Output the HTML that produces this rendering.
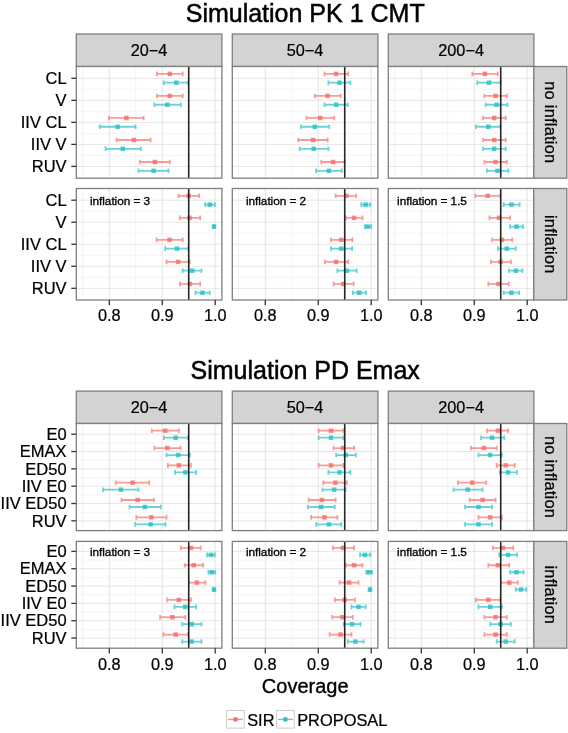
<!DOCTYPE html>
<html><head><meta charset="utf-8"><style>
html,body{margin:0;padding:0;background:#fff;}
svg{display:block;will-change:transform;}
text{font-family:"Liberation Sans", sans-serif;fill:#000;stroke:#000;stroke-width:0.22px;}
.t{font-size:25px;text-anchor:middle;stroke-width:0.5px;}
.s{font-size:16.3px;text-anchor:middle;}
.r{font-size:16.4px;text-anchor:middle;letter-spacing:0.25px;}
.y{font-size:16.5px;text-anchor:end;}
.i{font-size:11.8px;text-anchor:middle;letter-spacing:-0.05px;stroke:#000;stroke-width:0.32px;}
.xt{font-size:20px;text-anchor:middle;stroke-width:0.35px;}
.l{font-size:16.4px;}
</style></head><body>
<svg width="568" height="733" viewBox="0 0 568 733">
<rect width="568" height="733" fill="#fff"/>
<text x="305.2" y="22.3" class="t">Simulation PK 1 CMT</text>
<rect x="76.3" y="34" width="145.6" height="32.5" fill="#d3d3d3" stroke="#7f7f7f" stroke-width="1.3"/>
<text x="149.1" y="56.05" class="s">20−4</text>
<rect x="232.3" y="34" width="145.6" height="32.5" fill="#d3d3d3" stroke="#7f7f7f" stroke-width="1.3"/>
<text x="305.1" y="56.05" class="s">50−4</text>
<rect x="388.3" y="34" width="145.6" height="32.5" fill="#d3d3d3" stroke="#7f7f7f" stroke-width="1.3"/>
<text x="461.1" y="56.05" class="s">200−4</text>
<rect x="76.3" y="66.5" width="145.6" height="111.7" fill="#fff"/>
<line x1="82.82" x2="82.82" y1="66.5" y2="178.2" stroke="#f4f4f4" stroke-width="1"/>
<line x1="135.77" x2="135.77" y1="66.5" y2="178.2" stroke="#f4f4f4" stroke-width="1"/>
<line x1="188.72" x2="188.72" y1="66.5" y2="178.2" stroke="#f4f4f4" stroke-width="1"/>
<line x1="76.3" x2="221.9" y1="89.31" y2="89.31" stroke="#f4f4f4" stroke-width="1"/>
<line x1="76.3" x2="221.9" y1="111.34" y2="111.34" stroke="#f4f4f4" stroke-width="1"/>
<line x1="76.3" x2="221.9" y1="133.38" y2="133.38" stroke="#f4f4f4" stroke-width="1"/>
<line x1="76.3" x2="221.9" y1="155.41" y2="155.41" stroke="#f4f4f4" stroke-width="1"/>
<line x1="109.3" x2="109.3" y1="66.5" y2="178.2" stroke="#e2e2e2" stroke-width="0.9"/>
<line x1="162.25" x2="162.25" y1="66.5" y2="178.2" stroke="#e2e2e2" stroke-width="0.9"/>
<line x1="215.2" x2="215.2" y1="66.5" y2="178.2" stroke="#e2e2e2" stroke-width="0.9"/>
<line x1="76.3" x2="221.9" y1="78.3" y2="78.3" stroke="#e2e2e2" stroke-width="0.9"/>
<line x1="76.3" x2="221.9" y1="100.33" y2="100.33" stroke="#e2e2e2" stroke-width="0.9"/>
<line x1="76.3" x2="221.9" y1="122.36" y2="122.36" stroke="#e2e2e2" stroke-width="0.9"/>
<line x1="76.3" x2="221.9" y1="144.39" y2="144.39" stroke="#e2e2e2" stroke-width="0.9"/>
<line x1="76.3" x2="221.9" y1="166.42" y2="166.42" stroke="#e2e2e2" stroke-width="0.9"/>
<path d="M157 73.9H182.7M157 71.6V76.2M182.7 71.6V76.2" stroke="#F7706A" stroke-opacity="0.7" stroke-width="1.8" fill="none"/>
<rect x="167.55" y="71.65" width="4.5" height="4.5" fill="#F7706A" fill-opacity="0.82"/>
<path d="M163.9 82.7H187.8M163.9 80.4V85M187.8 80.4V85" stroke="#2CC0C4" stroke-opacity="0.7" stroke-width="1.8" fill="none"/>
<rect x="174.05" y="80.45" width="4.5" height="4.5" fill="#2CC0C4" fill-opacity="0.82"/>
<path d="M157 95.93H182.7M157 93.63V98.23M182.7 93.63V98.23" stroke="#F7706A" stroke-opacity="0.7" stroke-width="1.8" fill="none"/>
<rect x="167.55" y="93.68" width="4.5" height="4.5" fill="#F7706A" fill-opacity="0.82"/>
<path d="M154.4 104.73H180.9M154.4 102.43V107.03M180.9 102.43V107.03" stroke="#2CC0C4" stroke-opacity="0.7" stroke-width="1.8" fill="none"/>
<rect x="165.05" y="102.48" width="4.5" height="4.5" fill="#2CC0C4" fill-opacity="0.82"/>
<path d="M108.9 117.96H143.6M108.9 115.66V120.26M143.6 115.66V120.26" stroke="#F7706A" stroke-opacity="0.7" stroke-width="1.8" fill="none"/>
<rect x="124.15" y="115.71" width="4.5" height="4.5" fill="#F7706A" fill-opacity="0.82"/>
<path d="M99.7 126.76H135.6M99.7 124.46V129.06M135.6 124.46V129.06" stroke="#2CC0C4" stroke-opacity="0.7" stroke-width="1.8" fill="none"/>
<rect x="115.35" y="124.51" width="4.5" height="4.5" fill="#2CC0C4" fill-opacity="0.82"/>
<path d="M116.6 139.99H150.6M116.6 137.69V142.29M150.6 137.69V142.29" stroke="#F7706A" stroke-opacity="0.7" stroke-width="1.8" fill="none"/>
<rect x="131.55" y="137.74" width="4.5" height="4.5" fill="#F7706A" fill-opacity="0.82"/>
<path d="M105.6 148.79H140.8M105.6 146.49V151.09M140.8 146.49V151.09" stroke="#2CC0C4" stroke-opacity="0.7" stroke-width="1.8" fill="none"/>
<rect x="120.55" y="146.54" width="4.5" height="4.5" fill="#2CC0C4" fill-opacity="0.82"/>
<path d="M139.8 162.02H169.8M139.8 159.72V164.32M169.8 159.72V164.32" stroke="#F7706A" stroke-opacity="0.7" stroke-width="1.8" fill="none"/>
<rect x="152.65" y="159.77" width="4.5" height="4.5" fill="#F7706A" fill-opacity="0.82"/>
<path d="M138.5 170.82H168.5M138.5 168.52V173.12M168.5 168.52V173.12" stroke="#2CC0C4" stroke-opacity="0.7" stroke-width="1.8" fill="none"/>
<rect x="151.35" y="168.57" width="4.5" height="4.5" fill="#2CC0C4" fill-opacity="0.82"/>
<line x1="188.72" x2="188.72" y1="66.5" y2="178.2" stroke="#1a1a1a" stroke-width="1.6" stroke-opacity="0.95"/>
<rect x="76.3" y="66.5" width="145.6" height="111.7" fill="none" stroke="#7f7f7f" stroke-width="1.3"/>
<rect x="232.3" y="66.5" width="145.6" height="111.7" fill="#fff"/>
<line x1="238.82" x2="238.82" y1="66.5" y2="178.2" stroke="#f4f4f4" stroke-width="1"/>
<line x1="291.77" x2="291.77" y1="66.5" y2="178.2" stroke="#f4f4f4" stroke-width="1"/>
<line x1="344.72" x2="344.72" y1="66.5" y2="178.2" stroke="#f4f4f4" stroke-width="1"/>
<line x1="232.3" x2="377.9" y1="89.31" y2="89.31" stroke="#f4f4f4" stroke-width="1"/>
<line x1="232.3" x2="377.9" y1="111.34" y2="111.34" stroke="#f4f4f4" stroke-width="1"/>
<line x1="232.3" x2="377.9" y1="133.38" y2="133.38" stroke="#f4f4f4" stroke-width="1"/>
<line x1="232.3" x2="377.9" y1="155.41" y2="155.41" stroke="#f4f4f4" stroke-width="1"/>
<line x1="265.3" x2="265.3" y1="66.5" y2="178.2" stroke="#e2e2e2" stroke-width="0.9"/>
<line x1="318.25" x2="318.25" y1="66.5" y2="178.2" stroke="#e2e2e2" stroke-width="0.9"/>
<line x1="371.2" x2="371.2" y1="66.5" y2="178.2" stroke="#e2e2e2" stroke-width="0.9"/>
<line x1="232.3" x2="377.9" y1="78.3" y2="78.3" stroke="#e2e2e2" stroke-width="0.9"/>
<line x1="232.3" x2="377.9" y1="100.33" y2="100.33" stroke="#e2e2e2" stroke-width="0.9"/>
<line x1="232.3" x2="377.9" y1="122.36" y2="122.36" stroke="#e2e2e2" stroke-width="0.9"/>
<line x1="232.3" x2="377.9" y1="144.39" y2="144.39" stroke="#e2e2e2" stroke-width="0.9"/>
<line x1="232.3" x2="377.9" y1="166.42" y2="166.42" stroke="#e2e2e2" stroke-width="0.9"/>
<path d="M324.5 73.9H348.2M324.5 71.6V76.2M348.2 71.6V76.2" stroke="#F7706A" stroke-opacity="0.7" stroke-width="1.8" fill="none"/>
<rect x="333.85" y="71.65" width="4.5" height="4.5" fill="#F7706A" fill-opacity="0.82"/>
<path d="M328.4 82.7H350.3M328.4 80.4V85M350.3 80.4V85" stroke="#2CC0C4" stroke-opacity="0.7" stroke-width="1.8" fill="none"/>
<rect x="337.25" y="80.45" width="4.5" height="4.5" fill="#2CC0C4" fill-opacity="0.82"/>
<path d="M314.8 95.93H340.7M314.8 93.63V98.23M340.7 93.63V98.23" stroke="#F7706A" stroke-opacity="0.7" stroke-width="1.8" fill="none"/>
<rect x="325.35" y="93.68" width="4.5" height="4.5" fill="#F7706A" fill-opacity="0.82"/>
<path d="M324.5 104.73H347.7M324.5 102.43V107.03M347.7 102.43V107.03" stroke="#2CC0C4" stroke-opacity="0.7" stroke-width="1.8" fill="none"/>
<rect x="333.85" y="102.48" width="4.5" height="4.5" fill="#2CC0C4" fill-opacity="0.82"/>
<path d="M306.6 117.96H334.3M306.6 115.66V120.26M334.3 115.66V120.26" stroke="#F7706A" stroke-opacity="0.7" stroke-width="1.8" fill="none"/>
<rect x="317.95" y="115.71" width="4.5" height="4.5" fill="#F7706A" fill-opacity="0.82"/>
<path d="M300.9 126.76H329.2M300.9 124.46V129.06M329.2 124.46V129.06" stroke="#2CC0C4" stroke-opacity="0.7" stroke-width="1.8" fill="none"/>
<rect x="312.55" y="124.51" width="4.5" height="4.5" fill="#2CC0C4" fill-opacity="0.82"/>
<path d="M298.3 139.99H327.6M298.3 137.69V142.29M327.6 137.69V142.29" stroke="#F7706A" stroke-opacity="0.7" stroke-width="1.8" fill="none"/>
<rect x="310.75" y="137.74" width="4.5" height="4.5" fill="#F7706A" fill-opacity="0.82"/>
<path d="M299.6 148.79H328.4M299.6 146.49V151.09M328.4 146.49V151.09" stroke="#2CC0C4" stroke-opacity="0.7" stroke-width="1.8" fill="none"/>
<rect x="311.45" y="146.54" width="4.5" height="4.5" fill="#2CC0C4" fill-opacity="0.82"/>
<path d="M321.2 162.02H344.6M321.2 159.72V164.32M344.6 159.72V164.32" stroke="#F7706A" stroke-opacity="0.7" stroke-width="1.8" fill="none"/>
<rect x="330.75" y="159.77" width="4.5" height="4.5" fill="#F7706A" fill-opacity="0.82"/>
<path d="M316.1 170.82H341.8M316.1 168.52V173.12M341.8 168.52V173.12" stroke="#2CC0C4" stroke-opacity="0.7" stroke-width="1.8" fill="none"/>
<rect x="326.65" y="168.57" width="4.5" height="4.5" fill="#2CC0C4" fill-opacity="0.82"/>
<line x1="344.72" x2="344.72" y1="66.5" y2="178.2" stroke="#1a1a1a" stroke-width="1.6" stroke-opacity="0.95"/>
<rect x="232.3" y="66.5" width="145.6" height="111.7" fill="none" stroke="#7f7f7f" stroke-width="1.3"/>
<rect x="388.3" y="66.5" width="145.6" height="111.7" fill="#fff"/>
<line x1="394.82" x2="394.82" y1="66.5" y2="178.2" stroke="#f4f4f4" stroke-width="1"/>
<line x1="447.77" x2="447.77" y1="66.5" y2="178.2" stroke="#f4f4f4" stroke-width="1"/>
<line x1="500.72" x2="500.72" y1="66.5" y2="178.2" stroke="#f4f4f4" stroke-width="1"/>
<line x1="388.3" x2="533.9" y1="89.31" y2="89.31" stroke="#f4f4f4" stroke-width="1"/>
<line x1="388.3" x2="533.9" y1="111.34" y2="111.34" stroke="#f4f4f4" stroke-width="1"/>
<line x1="388.3" x2="533.9" y1="133.38" y2="133.38" stroke="#f4f4f4" stroke-width="1"/>
<line x1="388.3" x2="533.9" y1="155.41" y2="155.41" stroke="#f4f4f4" stroke-width="1"/>
<line x1="421.3" x2="421.3" y1="66.5" y2="178.2" stroke="#e2e2e2" stroke-width="0.9"/>
<line x1="474.25" x2="474.25" y1="66.5" y2="178.2" stroke="#e2e2e2" stroke-width="0.9"/>
<line x1="527.2" x2="527.2" y1="66.5" y2="178.2" stroke="#e2e2e2" stroke-width="0.9"/>
<line x1="388.3" x2="533.9" y1="78.3" y2="78.3" stroke="#e2e2e2" stroke-width="0.9"/>
<line x1="388.3" x2="533.9" y1="100.33" y2="100.33" stroke="#e2e2e2" stroke-width="0.9"/>
<line x1="388.3" x2="533.9" y1="122.36" y2="122.36" stroke="#e2e2e2" stroke-width="0.9"/>
<line x1="388.3" x2="533.9" y1="144.39" y2="144.39" stroke="#e2e2e2" stroke-width="0.9"/>
<line x1="388.3" x2="533.9" y1="166.42" y2="166.42" stroke="#e2e2e2" stroke-width="0.9"/>
<path d="M472.3 73.9H497.8M472.3 71.6V76.2M497.8 71.6V76.2" stroke="#F7706A" stroke-opacity="0.7" stroke-width="1.8" fill="none"/>
<rect x="482.65" y="71.65" width="4.5" height="4.5" fill="#F7706A" fill-opacity="0.82"/>
<path d="M477.2 82.7H500.6M477.2 80.4V85M500.6 80.4V85" stroke="#2CC0C4" stroke-opacity="0.7" stroke-width="1.8" fill="none"/>
<rect x="486.75" y="80.45" width="4.5" height="4.5" fill="#2CC0C4" fill-opacity="0.82"/>
<path d="M484.4 95.93H506.8M484.4 93.63V98.23M506.8 93.63V98.23" stroke="#F7706A" stroke-opacity="0.7" stroke-width="1.8" fill="none"/>
<rect x="493.25" y="93.68" width="4.5" height="4.5" fill="#F7706A" fill-opacity="0.82"/>
<path d="M485.7 104.73H507.5M485.7 102.43V107.03M507.5 102.43V107.03" stroke="#2CC0C4" stroke-opacity="0.7" stroke-width="1.8" fill="none"/>
<rect x="494.25" y="102.48" width="4.5" height="4.5" fill="#2CC0C4" fill-opacity="0.82"/>
<path d="M483.1 117.96H505.7M483.1 115.66V120.26M505.7 115.66V120.26" stroke="#F7706A" stroke-opacity="0.7" stroke-width="1.8" fill="none"/>
<rect x="491.95" y="115.71" width="4.5" height="4.5" fill="#F7706A" fill-opacity="0.82"/>
<path d="M475.9 126.76H500.3M475.9 124.46V129.06M500.3 124.46V129.06" stroke="#2CC0C4" stroke-opacity="0.7" stroke-width="1.8" fill="none"/>
<rect x="486.05" y="124.51" width="4.5" height="4.5" fill="#2CC0C4" fill-opacity="0.82"/>
<path d="M483.1 139.99H505.7M483.1 137.69V142.29M505.7 137.69V142.29" stroke="#F7706A" stroke-opacity="0.7" stroke-width="1.8" fill="none"/>
<rect x="491.95" y="137.74" width="4.5" height="4.5" fill="#F7706A" fill-opacity="0.82"/>
<path d="M483.1 148.79H505.7M483.1 146.49V151.09M505.7 146.49V151.09" stroke="#2CC0C4" stroke-opacity="0.7" stroke-width="1.8" fill="none"/>
<rect x="491.95" y="146.54" width="4.5" height="4.5" fill="#2CC0C4" fill-opacity="0.82"/>
<path d="M484.4 162.02H506.8M484.4 159.72V164.32M506.8 159.72V164.32" stroke="#F7706A" stroke-opacity="0.7" stroke-width="1.8" fill="none"/>
<rect x="493.25" y="159.77" width="4.5" height="4.5" fill="#F7706A" fill-opacity="0.82"/>
<path d="M487 170.82H508.3M487 168.52V173.12M508.3 168.52V173.12" stroke="#2CC0C4" stroke-opacity="0.7" stroke-width="1.8" fill="none"/>
<rect x="495.25" y="168.57" width="4.5" height="4.5" fill="#2CC0C4" fill-opacity="0.82"/>
<line x1="500.72" x2="500.72" y1="66.5" y2="178.2" stroke="#1a1a1a" stroke-width="1.6" stroke-opacity="0.95"/>
<rect x="388.3" y="66.5" width="145.6" height="111.7" fill="none" stroke="#7f7f7f" stroke-width="1.3"/>
<rect x="533.8" y="66.5" width="33" height="111.7" fill="#d3d3d3" stroke="#7f7f7f" stroke-width="1.3"/>
<text transform="translate(544.6 122.35) rotate(90)" class="r">no inflation</text>
<line x1="71.3" x2="76" y1="78.3" y2="78.3" stroke="#333" stroke-width="1.3"/>
<text x="66.6" y="84.05" class="y">CL</text>
<line x1="71.3" x2="76" y1="100.33" y2="100.33" stroke="#333" stroke-width="1.3"/>
<text x="66.6" y="106.08" class="y">V</text>
<line x1="71.3" x2="76" y1="122.36" y2="122.36" stroke="#333" stroke-width="1.3"/>
<text x="66.6" y="128.11" class="y">IIV CL</text>
<line x1="71.3" x2="76" y1="144.39" y2="144.39" stroke="#333" stroke-width="1.3"/>
<text x="66.6" y="150.14" class="y">IIV V</text>
<line x1="71.3" x2="76" y1="166.42" y2="166.42" stroke="#333" stroke-width="1.3"/>
<text x="66.6" y="172.17" class="y">RUV</text>
<rect x="76.3" y="188.5" width="145.6" height="111.5" fill="#fff"/>
<line x1="82.82" x2="82.82" y1="188.5" y2="300" stroke="#f4f4f4" stroke-width="1"/>
<line x1="135.77" x2="135.77" y1="188.5" y2="300" stroke="#f4f4f4" stroke-width="1"/>
<line x1="188.72" x2="188.72" y1="188.5" y2="300" stroke="#f4f4f4" stroke-width="1"/>
<line x1="76.3" x2="221.9" y1="211.21" y2="211.21" stroke="#f4f4f4" stroke-width="1"/>
<line x1="76.3" x2="221.9" y1="233.25" y2="233.25" stroke="#f4f4f4" stroke-width="1"/>
<line x1="76.3" x2="221.9" y1="255.27" y2="255.27" stroke="#f4f4f4" stroke-width="1"/>
<line x1="76.3" x2="221.9" y1="277.3" y2="277.3" stroke="#f4f4f4" stroke-width="1"/>
<line x1="109.3" x2="109.3" y1="188.5" y2="300" stroke="#e2e2e2" stroke-width="0.9"/>
<line x1="162.25" x2="162.25" y1="188.5" y2="300" stroke="#e2e2e2" stroke-width="0.9"/>
<line x1="215.2" x2="215.2" y1="188.5" y2="300" stroke="#e2e2e2" stroke-width="0.9"/>
<line x1="76.3" x2="221.9" y1="200.2" y2="200.2" stroke="#e2e2e2" stroke-width="0.9"/>
<line x1="76.3" x2="221.9" y1="222.23" y2="222.23" stroke="#e2e2e2" stroke-width="0.9"/>
<line x1="76.3" x2="221.9" y1="244.26" y2="244.26" stroke="#e2e2e2" stroke-width="0.9"/>
<line x1="76.3" x2="221.9" y1="266.29" y2="266.29" stroke="#e2e2e2" stroke-width="0.9"/>
<line x1="76.3" x2="221.9" y1="288.32" y2="288.32" stroke="#e2e2e2" stroke-width="0.9"/>
<path d="M178.5 195.8H199.2M178.5 193.5V198.1M199.2 193.5V198.1" stroke="#F7706A" stroke-opacity="0.7" stroke-width="1.8" fill="none"/>
<rect x="186.45" y="193.55" width="4.5" height="4.5" fill="#F7706A" fill-opacity="0.82"/>
<path d="M205.1 204.6H214.9M205.1 202.3V206.9M214.9 202.3V206.9" stroke="#2CC0C4" stroke-opacity="0.7" stroke-width="1.8" fill="none"/>
<rect x="207.55" y="202.35" width="4.5" height="4.5" fill="#2CC0C4" fill-opacity="0.82"/>
<path d="M179.8 217.83H200.1M179.8 215.53V220.13M200.1 215.53V220.13" stroke="#F7706A" stroke-opacity="0.7" stroke-width="1.8" fill="none"/>
<rect x="187.25" y="215.58" width="4.5" height="4.5" fill="#F7706A" fill-opacity="0.82"/>
<path d="M213.5 226.63H214.5M213.5 224.33V228.93M214.5 224.33V228.93" stroke="#2CC0C4" stroke-opacity="0.7" stroke-width="1.8" fill="none"/>
<rect x="211.75" y="224.38" width="4.5" height="4.5" fill="#2CC0C4" fill-opacity="0.82"/>
<path d="M156.6 239.86H182.7M156.6 237.56V242.16M182.7 237.56V242.16" stroke="#F7706A" stroke-opacity="0.7" stroke-width="1.8" fill="none"/>
<rect x="167.35" y="237.61" width="4.5" height="4.5" fill="#F7706A" fill-opacity="0.82"/>
<path d="M165.2 248.66H188.1M165.2 246.36V250.96M188.1 246.36V250.96" stroke="#2CC0C4" stroke-opacity="0.7" stroke-width="1.8" fill="none"/>
<rect x="174.75" y="246.41" width="4.5" height="4.5" fill="#2CC0C4" fill-opacity="0.82"/>
<path d="M166.5 261.89H189.6M166.5 259.59V264.19M189.6 259.59V264.19" stroke="#F7706A" stroke-opacity="0.7" stroke-width="1.8" fill="none"/>
<rect x="175.85" y="259.64" width="4.5" height="4.5" fill="#F7706A" fill-opacity="0.82"/>
<path d="M182.7 270.69H201.4M182.7 268.39V272.99M201.4 268.39V272.99" stroke="#2CC0C4" stroke-opacity="0.7" stroke-width="1.8" fill="none"/>
<rect x="189.95" y="268.44" width="4.5" height="4.5" fill="#2CC0C4" fill-opacity="0.82"/>
<path d="M180.1 283.92H200.2M180.1 281.62V286.22M200.2 281.62V286.22" stroke="#F7706A" stroke-opacity="0.7" stroke-width="1.8" fill="none"/>
<rect x="187.65" y="281.67" width="4.5" height="4.5" fill="#F7706A" fill-opacity="0.82"/>
<path d="M195.5 292.72H209.7M195.5 290.42V295.02M209.7 290.42V295.02" stroke="#2CC0C4" stroke-opacity="0.7" stroke-width="1.8" fill="none"/>
<rect x="200.25" y="290.47" width="4.5" height="4.5" fill="#2CC0C4" fill-opacity="0.82"/>
<line x1="188.72" x2="188.72" y1="188.5" y2="300" stroke="#1a1a1a" stroke-width="1.6" stroke-opacity="0.95"/>
<text x="120" y="204.8" class="i">inflation = 3</text>
<rect x="76.3" y="188.5" width="145.6" height="111.5" fill="none" stroke="#7f7f7f" stroke-width="1.3"/>
<rect x="232.3" y="188.5" width="145.6" height="111.5" fill="#fff"/>
<line x1="238.82" x2="238.82" y1="188.5" y2="300" stroke="#f4f4f4" stroke-width="1"/>
<line x1="291.77" x2="291.77" y1="188.5" y2="300" stroke="#f4f4f4" stroke-width="1"/>
<line x1="344.72" x2="344.72" y1="188.5" y2="300" stroke="#f4f4f4" stroke-width="1"/>
<line x1="232.3" x2="377.9" y1="211.21" y2="211.21" stroke="#f4f4f4" stroke-width="1"/>
<line x1="232.3" x2="377.9" y1="233.25" y2="233.25" stroke="#f4f4f4" stroke-width="1"/>
<line x1="232.3" x2="377.9" y1="255.27" y2="255.27" stroke="#f4f4f4" stroke-width="1"/>
<line x1="232.3" x2="377.9" y1="277.3" y2="277.3" stroke="#f4f4f4" stroke-width="1"/>
<line x1="265.3" x2="265.3" y1="188.5" y2="300" stroke="#e2e2e2" stroke-width="0.9"/>
<line x1="318.25" x2="318.25" y1="188.5" y2="300" stroke="#e2e2e2" stroke-width="0.9"/>
<line x1="371.2" x2="371.2" y1="188.5" y2="300" stroke="#e2e2e2" stroke-width="0.9"/>
<line x1="232.3" x2="377.9" y1="200.2" y2="200.2" stroke="#e2e2e2" stroke-width="0.9"/>
<line x1="232.3" x2="377.9" y1="222.23" y2="222.23" stroke="#e2e2e2" stroke-width="0.9"/>
<line x1="232.3" x2="377.9" y1="244.26" y2="244.26" stroke="#e2e2e2" stroke-width="0.9"/>
<line x1="232.3" x2="377.9" y1="266.29" y2="266.29" stroke="#e2e2e2" stroke-width="0.9"/>
<line x1="232.3" x2="377.9" y1="288.32" y2="288.32" stroke="#e2e2e2" stroke-width="0.9"/>
<path d="M335.6 195.8H356.2M335.6 193.5V198.1M356.2 193.5V198.1" stroke="#F7706A" stroke-opacity="0.7" stroke-width="1.8" fill="none"/>
<rect x="344.15" y="193.55" width="4.5" height="4.5" fill="#F7706A" fill-opacity="0.82"/>
<path d="M361.3 204.6H370.3M361.3 202.3V206.9M370.3 202.3V206.9" stroke="#2CC0C4" stroke-opacity="0.7" stroke-width="1.8" fill="none"/>
<rect x="363.45" y="202.35" width="4.5" height="4.5" fill="#2CC0C4" fill-opacity="0.82"/>
<path d="M345.9 217.83H362.6M345.9 215.53V220.13M362.6 215.53V220.13" stroke="#F7706A" stroke-opacity="0.7" stroke-width="1.8" fill="none"/>
<rect x="351.85" y="215.58" width="4.5" height="4.5" fill="#F7706A" fill-opacity="0.82"/>
<path d="M364.9 226.63H371.3M364.9 224.33V228.93M371.3 224.33V228.93" stroke="#2CC0C4" stroke-opacity="0.7" stroke-width="1.8" fill="none"/>
<rect x="365.45" y="224.38" width="4.5" height="4.5" fill="#2CC0C4" fill-opacity="0.82"/>
<path d="M331 239.86H352.3M331 237.56V242.16M352.3 237.56V242.16" stroke="#F7706A" stroke-opacity="0.7" stroke-width="1.8" fill="none"/>
<rect x="339.05" y="237.61" width="4.5" height="4.5" fill="#F7706A" fill-opacity="0.82"/>
<path d="M331 248.66H352.1M331 246.36V250.96M352.1 246.36V250.96" stroke="#2CC0C4" stroke-opacity="0.7" stroke-width="1.8" fill="none"/>
<rect x="339.05" y="246.41" width="4.5" height="4.5" fill="#2CC0C4" fill-opacity="0.82"/>
<path d="M325.1 261.89H348.2M325.1 259.59V264.19M348.2 259.59V264.19" stroke="#F7706A" stroke-opacity="0.7" stroke-width="1.8" fill="none"/>
<rect x="333.85" y="259.64" width="4.5" height="4.5" fill="#F7706A" fill-opacity="0.82"/>
<path d="M337.4 270.69H356.7M337.4 268.39V272.99M356.7 268.39V272.99" stroke="#2CC0C4" stroke-opacity="0.7" stroke-width="1.8" fill="none"/>
<rect x="344.65" y="268.44" width="4.5" height="4.5" fill="#2CC0C4" fill-opacity="0.82"/>
<path d="M333.5 283.92H353.6M333.5 281.62V286.22M353.6 281.62V286.22" stroke="#F7706A" stroke-opacity="0.7" stroke-width="1.8" fill="none"/>
<rect x="341.05" y="281.67" width="4.5" height="4.5" fill="#F7706A" fill-opacity="0.82"/>
<path d="M352.8 292.72H366.2M352.8 290.42V295.02M366.2 290.42V295.02" stroke="#2CC0C4" stroke-opacity="0.7" stroke-width="1.8" fill="none"/>
<rect x="356.95" y="290.47" width="4.5" height="4.5" fill="#2CC0C4" fill-opacity="0.82"/>
<line x1="344.72" x2="344.72" y1="188.5" y2="300" stroke="#1a1a1a" stroke-width="1.6" stroke-opacity="0.95"/>
<text x="276" y="204.8" class="i">inflation = 2</text>
<rect x="232.3" y="188.5" width="145.6" height="111.5" fill="none" stroke="#7f7f7f" stroke-width="1.3"/>
<rect x="388.3" y="188.5" width="145.6" height="111.5" fill="#fff"/>
<line x1="394.82" x2="394.82" y1="188.5" y2="300" stroke="#f4f4f4" stroke-width="1"/>
<line x1="447.77" x2="447.77" y1="188.5" y2="300" stroke="#f4f4f4" stroke-width="1"/>
<line x1="500.72" x2="500.72" y1="188.5" y2="300" stroke="#f4f4f4" stroke-width="1"/>
<line x1="388.3" x2="533.9" y1="211.21" y2="211.21" stroke="#f4f4f4" stroke-width="1"/>
<line x1="388.3" x2="533.9" y1="233.25" y2="233.25" stroke="#f4f4f4" stroke-width="1"/>
<line x1="388.3" x2="533.9" y1="255.27" y2="255.27" stroke="#f4f4f4" stroke-width="1"/>
<line x1="388.3" x2="533.9" y1="277.3" y2="277.3" stroke="#f4f4f4" stroke-width="1"/>
<line x1="421.3" x2="421.3" y1="188.5" y2="300" stroke="#e2e2e2" stroke-width="0.9"/>
<line x1="474.25" x2="474.25" y1="188.5" y2="300" stroke="#e2e2e2" stroke-width="0.9"/>
<line x1="527.2" x2="527.2" y1="188.5" y2="300" stroke="#e2e2e2" stroke-width="0.9"/>
<line x1="388.3" x2="533.9" y1="200.2" y2="200.2" stroke="#e2e2e2" stroke-width="0.9"/>
<line x1="388.3" x2="533.9" y1="222.23" y2="222.23" stroke="#e2e2e2" stroke-width="0.9"/>
<line x1="388.3" x2="533.9" y1="244.26" y2="244.26" stroke="#e2e2e2" stroke-width="0.9"/>
<line x1="388.3" x2="533.9" y1="266.29" y2="266.29" stroke="#e2e2e2" stroke-width="0.9"/>
<line x1="388.3" x2="533.9" y1="288.32" y2="288.32" stroke="#e2e2e2" stroke-width="0.9"/>
<path d="M475.4 195.8H500.3M475.4 193.5V198.1M500.3 193.5V198.1" stroke="#F7706A" stroke-opacity="0.7" stroke-width="1.8" fill="none"/>
<rect x="485.45" y="193.55" width="4.5" height="4.5" fill="#F7706A" fill-opacity="0.82"/>
<path d="M503.7 204.6H519.6M503.7 202.3V206.9M519.6 202.3V206.9" stroke="#2CC0C4" stroke-opacity="0.7" stroke-width="1.8" fill="none"/>
<rect x="509.15" y="202.35" width="4.5" height="4.5" fill="#2CC0C4" fill-opacity="0.82"/>
<path d="M489.5 217.83H510.1M489.5 215.53V220.13M510.1 215.53V220.13" stroke="#F7706A" stroke-opacity="0.7" stroke-width="1.8" fill="none"/>
<rect x="496.75" y="215.58" width="4.5" height="4.5" fill="#F7706A" fill-opacity="0.82"/>
<path d="M510.1 226.63H523M510.1 224.33V228.93M523 224.33V228.93" stroke="#2CC0C4" stroke-opacity="0.7" stroke-width="1.8" fill="none"/>
<rect x="514.25" y="224.38" width="4.5" height="4.5" fill="#2CC0C4" fill-opacity="0.82"/>
<path d="M492.1 239.86H512.2M492.1 237.56V242.16M512.2 237.56V242.16" stroke="#F7706A" stroke-opacity="0.7" stroke-width="1.8" fill="none"/>
<rect x="499.65" y="237.61" width="4.5" height="4.5" fill="#F7706A" fill-opacity="0.82"/>
<path d="M498 248.66H515.8M498 246.36V250.96M515.8 246.36V250.96" stroke="#2CC0C4" stroke-opacity="0.7" stroke-width="1.8" fill="none"/>
<rect x="504.55" y="246.41" width="4.5" height="4.5" fill="#2CC0C4" fill-opacity="0.82"/>
<path d="M490.8 261.89H510.9M490.8 259.59V264.19M510.9 259.59V264.19" stroke="#F7706A" stroke-opacity="0.7" stroke-width="1.8" fill="none"/>
<rect x="498.35" y="259.64" width="4.5" height="4.5" fill="#F7706A" fill-opacity="0.82"/>
<path d="M508.8 270.69H522.4M508.8 268.39V272.99M522.4 268.39V272.99" stroke="#2CC0C4" stroke-opacity="0.7" stroke-width="1.8" fill="none"/>
<rect x="513.55" y="268.44" width="4.5" height="4.5" fill="#2CC0C4" fill-opacity="0.82"/>
<path d="M488.3 283.92H508.8M488.3 281.62V286.22M508.8 281.62V286.22" stroke="#F7706A" stroke-opacity="0.7" stroke-width="1.8" fill="none"/>
<rect x="496.25" y="281.67" width="4.5" height="4.5" fill="#F7706A" fill-opacity="0.82"/>
<path d="M503.7 292.72H519.1M503.7 290.42V295.02M519.1 290.42V295.02" stroke="#2CC0C4" stroke-opacity="0.7" stroke-width="1.8" fill="none"/>
<rect x="509.15" y="290.47" width="4.5" height="4.5" fill="#2CC0C4" fill-opacity="0.82"/>
<line x1="500.72" x2="500.72" y1="188.5" y2="300" stroke="#1a1a1a" stroke-width="1.6" stroke-opacity="0.95"/>
<text x="432" y="204.8" class="i">inflation = 1.5</text>
<rect x="388.3" y="188.5" width="145.6" height="111.5" fill="none" stroke="#7f7f7f" stroke-width="1.3"/>
<rect x="533.8" y="188.5" width="33" height="111.5" fill="#d3d3d3" stroke="#7f7f7f" stroke-width="1.3"/>
<text transform="translate(544.6 244.25) rotate(90)" class="r">inflation</text>
<line x1="71.3" x2="76" y1="200.2" y2="200.2" stroke="#333" stroke-width="1.3"/>
<text x="66.6" y="205.95" class="y">CL</text>
<line x1="71.3" x2="76" y1="222.23" y2="222.23" stroke="#333" stroke-width="1.3"/>
<text x="66.6" y="227.98" class="y">V</text>
<line x1="71.3" x2="76" y1="244.26" y2="244.26" stroke="#333" stroke-width="1.3"/>
<text x="66.6" y="250.01" class="y">IIV CL</text>
<line x1="71.3" x2="76" y1="266.29" y2="266.29" stroke="#333" stroke-width="1.3"/>
<text x="66.6" y="272.04" class="y">IIV V</text>
<line x1="71.3" x2="76" y1="288.32" y2="288.32" stroke="#333" stroke-width="1.3"/>
<text x="66.6" y="294.07" class="y">RUV</text>
<line x1="109.3" x2="109.3" y1="300" y2="305.2" stroke="#333" stroke-width="1.3"/>
<text x="109.3" y="321.3" class="s">0.8</text>
<line x1="162.25" x2="162.25" y1="300" y2="305.2" stroke="#333" stroke-width="1.3"/>
<text x="162.25" y="321.3" class="s">0.9</text>
<line x1="215.2" x2="215.2" y1="300" y2="305.2" stroke="#333" stroke-width="1.3"/>
<text x="215.2" y="321.3" class="s">1.0</text>
<line x1="265.3" x2="265.3" y1="300" y2="305.2" stroke="#333" stroke-width="1.3"/>
<text x="265.3" y="321.3" class="s">0.8</text>
<line x1="318.25" x2="318.25" y1="300" y2="305.2" stroke="#333" stroke-width="1.3"/>
<text x="318.25" y="321.3" class="s">0.9</text>
<line x1="371.2" x2="371.2" y1="300" y2="305.2" stroke="#333" stroke-width="1.3"/>
<text x="371.2" y="321.3" class="s">1.0</text>
<line x1="421.3" x2="421.3" y1="300" y2="305.2" stroke="#333" stroke-width="1.3"/>
<text x="421.3" y="321.3" class="s">0.8</text>
<line x1="474.25" x2="474.25" y1="300" y2="305.2" stroke="#333" stroke-width="1.3"/>
<text x="474.25" y="321.3" class="s">0.9</text>
<line x1="527.2" x2="527.2" y1="300" y2="305.2" stroke="#333" stroke-width="1.3"/>
<text x="527.2" y="321.3" class="s">1.0</text>
<text x="305.2" y="378.6" class="t">Simulation PD Emax</text>
<rect x="76.3" y="391.1" width="145.6" height="32.4" fill="#d3d3d3" stroke="#7f7f7f" stroke-width="1.3"/>
<text x="149.1" y="413.1" class="s">20−4</text>
<rect x="232.3" y="391.1" width="145.6" height="32.4" fill="#d3d3d3" stroke="#7f7f7f" stroke-width="1.3"/>
<text x="305.1" y="413.1" class="s">50−4</text>
<rect x="388.3" y="391.1" width="145.6" height="32.4" fill="#d3d3d3" stroke="#7f7f7f" stroke-width="1.3"/>
<text x="461.1" y="413.1" class="s">200−4</text>
<rect x="76.3" y="423.5" width="145.6" height="107.1" fill="#fff"/>
<line x1="82.82" x2="82.82" y1="423.5" y2="530.6" stroke="#f4f4f4" stroke-width="1"/>
<line x1="135.77" x2="135.77" y1="423.5" y2="530.6" stroke="#f4f4f4" stroke-width="1"/>
<line x1="188.72" x2="188.72" y1="423.5" y2="530.6" stroke="#f4f4f4" stroke-width="1"/>
<line x1="76.3" x2="221.9" y1="442.87" y2="442.87" stroke="#f4f4f4" stroke-width="1"/>
<line x1="76.3" x2="221.9" y1="460.19" y2="460.19" stroke="#f4f4f4" stroke-width="1"/>
<line x1="76.3" x2="221.9" y1="477.52" y2="477.52" stroke="#f4f4f4" stroke-width="1"/>
<line x1="76.3" x2="221.9" y1="494.86" y2="494.86" stroke="#f4f4f4" stroke-width="1"/>
<line x1="76.3" x2="221.9" y1="512.18" y2="512.18" stroke="#f4f4f4" stroke-width="1"/>
<line x1="109.3" x2="109.3" y1="423.5" y2="530.6" stroke="#e2e2e2" stroke-width="0.9"/>
<line x1="162.25" x2="162.25" y1="423.5" y2="530.6" stroke="#e2e2e2" stroke-width="0.9"/>
<line x1="215.2" x2="215.2" y1="423.5" y2="530.6" stroke="#e2e2e2" stroke-width="0.9"/>
<line x1="76.3" x2="221.9" y1="434.2" y2="434.2" stroke="#e2e2e2" stroke-width="0.9"/>
<line x1="76.3" x2="221.9" y1="451.53" y2="451.53" stroke="#e2e2e2" stroke-width="0.9"/>
<line x1="76.3" x2="221.9" y1="468.86" y2="468.86" stroke="#e2e2e2" stroke-width="0.9"/>
<line x1="76.3" x2="221.9" y1="486.19" y2="486.19" stroke="#e2e2e2" stroke-width="0.9"/>
<line x1="76.3" x2="221.9" y1="503.52" y2="503.52" stroke="#e2e2e2" stroke-width="0.9"/>
<line x1="76.3" x2="221.9" y1="520.85" y2="520.85" stroke="#e2e2e2" stroke-width="0.9"/>
<path d="M151.8 430.7H178.8M151.8 428.4V433M178.8 428.4V433" stroke="#F7706A" stroke-opacity="0.7" stroke-width="1.8" fill="none"/>
<rect x="162.95" y="428.45" width="4.5" height="4.5" fill="#F7706A" fill-opacity="0.82"/>
<path d="M163.9 437.7H187.8M163.9 435.4V440M187.8 435.4V440" stroke="#2CC0C4" stroke-opacity="0.7" stroke-width="1.8" fill="none"/>
<rect x="173.45" y="435.45" width="4.5" height="4.5" fill="#2CC0C4" fill-opacity="0.82"/>
<path d="M154.4 448.03H180.6M154.4 445.73V450.33M180.6 445.73V450.33" stroke="#F7706A" stroke-opacity="0.7" stroke-width="1.8" fill="none"/>
<rect x="165.05" y="445.78" width="4.5" height="4.5" fill="#F7706A" fill-opacity="0.82"/>
<path d="M166.5 455.03H189.9M166.5 452.73V457.33M189.9 452.73V457.33" stroke="#2CC0C4" stroke-opacity="0.7" stroke-width="1.8" fill="none"/>
<rect x="175.85" y="452.78" width="4.5" height="4.5" fill="#2CC0C4" fill-opacity="0.82"/>
<path d="M167.8 465.36H190.9M167.8 463.06V467.66M190.9 463.06V467.66" stroke="#F7706A" stroke-opacity="0.7" stroke-width="1.8" fill="none"/>
<rect x="176.55" y="463.11" width="4.5" height="4.5" fill="#F7706A" fill-opacity="0.82"/>
<path d="M175 472.36H196.1M175 470.06V474.66M196.1 470.06V474.66" stroke="#2CC0C4" stroke-opacity="0.7" stroke-width="1.8" fill="none"/>
<rect x="183.05" y="470.11" width="4.5" height="4.5" fill="#2CC0C4" fill-opacity="0.82"/>
<path d="M115.8 482.69H149.3M115.8 480.39V484.99M149.3 480.39V484.99" stroke="#F7706A" stroke-opacity="0.7" stroke-width="1.8" fill="none"/>
<rect x="130.35" y="480.44" width="4.5" height="4.5" fill="#F7706A" fill-opacity="0.82"/>
<path d="M103 489.69H138.5M103 487.39V491.99M138.5 487.39V491.99" stroke="#2CC0C4" stroke-opacity="0.7" stroke-width="1.8" fill="none"/>
<rect x="118.75" y="487.44" width="4.5" height="4.5" fill="#2CC0C4" fill-opacity="0.82"/>
<path d="M121.5 500.02H153.9M121.5 497.72V502.32M153.9 497.72V502.32" stroke="#F7706A" stroke-opacity="0.7" stroke-width="1.8" fill="none"/>
<rect x="135.45" y="497.77" width="4.5" height="4.5" fill="#F7706A" fill-opacity="0.82"/>
<path d="M129.5 507.02H160.8M129.5 504.72V509.32M160.8 504.72V509.32" stroke="#2CC0C4" stroke-opacity="0.7" stroke-width="1.8" fill="none"/>
<rect x="142.65" y="504.77" width="4.5" height="4.5" fill="#2CC0C4" fill-opacity="0.82"/>
<path d="M136.4 517.35H166.5M136.4 515.05V519.65M166.5 515.05V519.65" stroke="#F7706A" stroke-opacity="0.7" stroke-width="1.8" fill="none"/>
<rect x="149.05" y="515.1" width="4.5" height="4.5" fill="#F7706A" fill-opacity="0.82"/>
<path d="M135.1 524.35H165.5M135.1 522.05V526.65M165.5 522.05V526.65" stroke="#2CC0C4" stroke-opacity="0.7" stroke-width="1.8" fill="none"/>
<rect x="148.35" y="522.1" width="4.5" height="4.5" fill="#2CC0C4" fill-opacity="0.82"/>
<line x1="188.72" x2="188.72" y1="423.5" y2="530.6" stroke="#1a1a1a" stroke-width="1.6" stroke-opacity="0.95"/>
<rect x="76.3" y="423.5" width="145.6" height="107.1" fill="none" stroke="#7f7f7f" stroke-width="1.3"/>
<rect x="232.3" y="423.5" width="145.6" height="107.1" fill="#fff"/>
<line x1="238.82" x2="238.82" y1="423.5" y2="530.6" stroke="#f4f4f4" stroke-width="1"/>
<line x1="291.77" x2="291.77" y1="423.5" y2="530.6" stroke="#f4f4f4" stroke-width="1"/>
<line x1="344.72" x2="344.72" y1="423.5" y2="530.6" stroke="#f4f4f4" stroke-width="1"/>
<line x1="232.3" x2="377.9" y1="442.87" y2="442.87" stroke="#f4f4f4" stroke-width="1"/>
<line x1="232.3" x2="377.9" y1="460.19" y2="460.19" stroke="#f4f4f4" stroke-width="1"/>
<line x1="232.3" x2="377.9" y1="477.52" y2="477.52" stroke="#f4f4f4" stroke-width="1"/>
<line x1="232.3" x2="377.9" y1="494.86" y2="494.86" stroke="#f4f4f4" stroke-width="1"/>
<line x1="232.3" x2="377.9" y1="512.18" y2="512.18" stroke="#f4f4f4" stroke-width="1"/>
<line x1="265.3" x2="265.3" y1="423.5" y2="530.6" stroke="#e2e2e2" stroke-width="0.9"/>
<line x1="318.25" x2="318.25" y1="423.5" y2="530.6" stroke="#e2e2e2" stroke-width="0.9"/>
<line x1="371.2" x2="371.2" y1="423.5" y2="530.6" stroke="#e2e2e2" stroke-width="0.9"/>
<line x1="232.3" x2="377.9" y1="434.2" y2="434.2" stroke="#e2e2e2" stroke-width="0.9"/>
<line x1="232.3" x2="377.9" y1="451.53" y2="451.53" stroke="#e2e2e2" stroke-width="0.9"/>
<line x1="232.3" x2="377.9" y1="468.86" y2="468.86" stroke="#e2e2e2" stroke-width="0.9"/>
<line x1="232.3" x2="377.9" y1="486.19" y2="486.19" stroke="#e2e2e2" stroke-width="0.9"/>
<line x1="232.3" x2="377.9" y1="503.52" y2="503.52" stroke="#e2e2e2" stroke-width="0.9"/>
<line x1="232.3" x2="377.9" y1="520.85" y2="520.85" stroke="#e2e2e2" stroke-width="0.9"/>
<path d="M318.6 430.7H343.3M318.6 428.4V433M343.3 428.4V433" stroke="#F7706A" stroke-opacity="0.7" stroke-width="1.8" fill="none"/>
<rect x="328.75" y="428.45" width="4.5" height="4.5" fill="#F7706A" fill-opacity="0.82"/>
<path d="M318.6 437.7H343.3M318.6 435.4V440M343.3 435.4V440" stroke="#2CC0C4" stroke-opacity="0.7" stroke-width="1.8" fill="none"/>
<rect x="328.75" y="435.45" width="4.5" height="4.5" fill="#2CC0C4" fill-opacity="0.82"/>
<path d="M333.5 448.03H354.1M333.5 445.73V450.33M354.1 445.73V450.33" stroke="#F7706A" stroke-opacity="0.7" stroke-width="1.8" fill="none"/>
<rect x="340.75" y="445.78" width="4.5" height="4.5" fill="#F7706A" fill-opacity="0.82"/>
<path d="M336.1 455.03H355.9M336.1 452.73V457.33M355.9 452.73V457.33" stroke="#2CC0C4" stroke-opacity="0.7" stroke-width="1.8" fill="none"/>
<rect x="343.65" y="452.78" width="4.5" height="4.5" fill="#2CC0C4" fill-opacity="0.82"/>
<path d="M318.6 465.36H343.3M318.6 463.06V467.66M343.3 463.06V467.66" stroke="#F7706A" stroke-opacity="0.7" stroke-width="1.8" fill="none"/>
<rect x="328.75" y="463.11" width="4.5" height="4.5" fill="#F7706A" fill-opacity="0.82"/>
<path d="M328.4 472.36H350.3M328.4 470.06V474.66M350.3 470.06V474.66" stroke="#2CC0C4" stroke-opacity="0.7" stroke-width="1.8" fill="none"/>
<rect x="337.25" y="470.11" width="4.5" height="4.5" fill="#2CC0C4" fill-opacity="0.82"/>
<path d="M323.3 482.69H346.9M323.3 480.39V484.99M346.9 480.39V484.99" stroke="#F7706A" stroke-opacity="0.7" stroke-width="1.8" fill="none"/>
<rect x="333.05" y="480.44" width="4.5" height="4.5" fill="#F7706A" fill-opacity="0.82"/>
<path d="M322.5 489.69H345.6M322.5 487.39V491.99M345.6 487.39V491.99" stroke="#2CC0C4" stroke-opacity="0.7" stroke-width="1.8" fill="none"/>
<rect x="331.85" y="487.44" width="4.5" height="4.5" fill="#2CC0C4" fill-opacity="0.82"/>
<path d="M308.6 500.02H335.6M308.6 497.72V502.32M335.6 497.72V502.32" stroke="#F7706A" stroke-opacity="0.7" stroke-width="1.8" fill="none"/>
<rect x="319.75" y="497.77" width="4.5" height="4.5" fill="#F7706A" fill-opacity="0.82"/>
<path d="M307.8 507.02H334.8M307.8 504.72V509.32M334.8 504.72V509.32" stroke="#2CC0C4" stroke-opacity="0.7" stroke-width="1.8" fill="none"/>
<rect x="318.95" y="504.77" width="4.5" height="4.5" fill="#2CC0C4" fill-opacity="0.82"/>
<path d="M311.2 517.35H337.4M311.2 515.05V519.65M337.4 515.05V519.65" stroke="#F7706A" stroke-opacity="0.7" stroke-width="1.8" fill="none"/>
<rect x="322.25" y="515.1" width="4.5" height="4.5" fill="#F7706A" fill-opacity="0.82"/>
<path d="M316.3 524.35H341.3M316.3 522.05V526.65M341.3 522.05V526.65" stroke="#2CC0C4" stroke-opacity="0.7" stroke-width="1.8" fill="none"/>
<rect x="326.65" y="522.1" width="4.5" height="4.5" fill="#2CC0C4" fill-opacity="0.82"/>
<line x1="344.72" x2="344.72" y1="423.5" y2="530.6" stroke="#1a1a1a" stroke-width="1.6" stroke-opacity="0.95"/>
<rect x="232.3" y="423.5" width="145.6" height="107.1" fill="none" stroke="#7f7f7f" stroke-width="1.3"/>
<rect x="388.3" y="423.5" width="145.6" height="107.1" fill="#fff"/>
<line x1="394.82" x2="394.82" y1="423.5" y2="530.6" stroke="#f4f4f4" stroke-width="1"/>
<line x1="447.77" x2="447.77" y1="423.5" y2="530.6" stroke="#f4f4f4" stroke-width="1"/>
<line x1="500.72" x2="500.72" y1="423.5" y2="530.6" stroke="#f4f4f4" stroke-width="1"/>
<line x1="388.3" x2="533.9" y1="442.87" y2="442.87" stroke="#f4f4f4" stroke-width="1"/>
<line x1="388.3" x2="533.9" y1="460.19" y2="460.19" stroke="#f4f4f4" stroke-width="1"/>
<line x1="388.3" x2="533.9" y1="477.52" y2="477.52" stroke="#f4f4f4" stroke-width="1"/>
<line x1="388.3" x2="533.9" y1="494.86" y2="494.86" stroke="#f4f4f4" stroke-width="1"/>
<line x1="388.3" x2="533.9" y1="512.18" y2="512.18" stroke="#f4f4f4" stroke-width="1"/>
<line x1="421.3" x2="421.3" y1="423.5" y2="530.6" stroke="#e2e2e2" stroke-width="0.9"/>
<line x1="474.25" x2="474.25" y1="423.5" y2="530.6" stroke="#e2e2e2" stroke-width="0.9"/>
<line x1="527.2" x2="527.2" y1="423.5" y2="530.6" stroke="#e2e2e2" stroke-width="0.9"/>
<line x1="388.3" x2="533.9" y1="434.2" y2="434.2" stroke="#e2e2e2" stroke-width="0.9"/>
<line x1="388.3" x2="533.9" y1="451.53" y2="451.53" stroke="#e2e2e2" stroke-width="0.9"/>
<line x1="388.3" x2="533.9" y1="468.86" y2="468.86" stroke="#e2e2e2" stroke-width="0.9"/>
<line x1="388.3" x2="533.9" y1="486.19" y2="486.19" stroke="#e2e2e2" stroke-width="0.9"/>
<line x1="388.3" x2="533.9" y1="503.52" y2="503.52" stroke="#e2e2e2" stroke-width="0.9"/>
<line x1="388.3" x2="533.9" y1="520.85" y2="520.85" stroke="#e2e2e2" stroke-width="0.9"/>
<path d="M487 430.7H508.1M487 428.4V433M508.1 428.4V433" stroke="#F7706A" stroke-opacity="0.7" stroke-width="1.8" fill="none"/>
<rect x="495.55" y="428.45" width="4.5" height="4.5" fill="#F7706A" fill-opacity="0.82"/>
<path d="M481.1 437.7H504.2M481.1 435.4V440M504.2 435.4V440" stroke="#2CC0C4" stroke-opacity="0.7" stroke-width="1.8" fill="none"/>
<rect x="489.85" y="435.45" width="4.5" height="4.5" fill="#2CC0C4" fill-opacity="0.82"/>
<path d="M471 448.03H496.7M471 445.73V450.33M496.7 445.73V450.33" stroke="#F7706A" stroke-opacity="0.7" stroke-width="1.8" fill="none"/>
<rect x="481.65" y="445.78" width="4.5" height="4.5" fill="#F7706A" fill-opacity="0.82"/>
<path d="M478.5 455.03H501.9M478.5 452.73V457.33M501.9 452.73V457.33" stroke="#2CC0C4" stroke-opacity="0.7" stroke-width="1.8" fill="none"/>
<rect x="487.85" y="452.78" width="4.5" height="4.5" fill="#2CC0C4" fill-opacity="0.82"/>
<path d="M496.7 465.36H514.7M496.7 463.06V467.66M514.7 463.06V467.66" stroke="#F7706A" stroke-opacity="0.7" stroke-width="1.8" fill="none"/>
<rect x="503.45" y="463.11" width="4.5" height="4.5" fill="#F7706A" fill-opacity="0.82"/>
<path d="M499.8 472.36H517M499.8 470.06V474.66M517 470.06V474.66" stroke="#2CC0C4" stroke-opacity="0.7" stroke-width="1.8" fill="none"/>
<rect x="505.85" y="470.11" width="4.5" height="4.5" fill="#2CC0C4" fill-opacity="0.82"/>
<path d="M457.9 482.69H486.2M457.9 480.39V484.99M486.2 480.39V484.99" stroke="#F7706A" stroke-opacity="0.7" stroke-width="1.8" fill="none"/>
<rect x="469.85" y="480.44" width="4.5" height="4.5" fill="#F7706A" fill-opacity="0.82"/>
<path d="M453.6 489.69H482.6M453.6 487.39V491.99M482.6 487.39V491.99" stroke="#2CC0C4" stroke-opacity="0.7" stroke-width="1.8" fill="none"/>
<rect x="465.45" y="487.44" width="4.5" height="4.5" fill="#2CC0C4" fill-opacity="0.82"/>
<path d="M469.7 500.02H495.5M469.7 497.72V502.32M495.5 497.72V502.32" stroke="#F7706A" stroke-opacity="0.7" stroke-width="1.8" fill="none"/>
<rect x="480.35" y="497.77" width="4.5" height="4.5" fill="#F7706A" fill-opacity="0.82"/>
<path d="M465.1 507.02H492.1M465.1 504.72V509.32M492.1 504.72V509.32" stroke="#2CC0C4" stroke-opacity="0.7" stroke-width="1.8" fill="none"/>
<rect x="476.25" y="504.77" width="4.5" height="4.5" fill="#2CC0C4" fill-opacity="0.82"/>
<path d="M478.5 517.35H501.9M478.5 515.05V519.65M501.9 515.05V519.65" stroke="#F7706A" stroke-opacity="0.7" stroke-width="1.8" fill="none"/>
<rect x="487.85" y="515.1" width="4.5" height="4.5" fill="#F7706A" fill-opacity="0.82"/>
<path d="M465.1 524.35H492.1M465.1 522.05V526.65M492.1 522.05V526.65" stroke="#2CC0C4" stroke-opacity="0.7" stroke-width="1.8" fill="none"/>
<rect x="476.25" y="522.1" width="4.5" height="4.5" fill="#2CC0C4" fill-opacity="0.82"/>
<line x1="500.72" x2="500.72" y1="423.5" y2="530.6" stroke="#1a1a1a" stroke-width="1.6" stroke-opacity="0.95"/>
<rect x="388.3" y="423.5" width="145.6" height="107.1" fill="none" stroke="#7f7f7f" stroke-width="1.3"/>
<rect x="533.8" y="423.5" width="33" height="107.1" fill="#d3d3d3" stroke="#7f7f7f" stroke-width="1.3"/>
<text transform="translate(544.6 477.05) rotate(90)" class="r">no inflation</text>
<line x1="71.3" x2="76" y1="434.2" y2="434.2" stroke="#333" stroke-width="1.3"/>
<text x="66.6" y="439.95" class="y">E0</text>
<line x1="71.3" x2="76" y1="451.53" y2="451.53" stroke="#333" stroke-width="1.3"/>
<text x="66.6" y="457.28" class="y">EMAX</text>
<line x1="71.3" x2="76" y1="468.86" y2="468.86" stroke="#333" stroke-width="1.3"/>
<text x="66.6" y="474.61" class="y">ED50</text>
<line x1="71.3" x2="76" y1="486.19" y2="486.19" stroke="#333" stroke-width="1.3"/>
<text x="66.6" y="491.94" class="y">IIV E0</text>
<line x1="71.3" x2="76" y1="503.52" y2="503.52" stroke="#333" stroke-width="1.3"/>
<text x="66.6" y="509.27" class="y">IIV ED50</text>
<line x1="71.3" x2="76" y1="520.85" y2="520.85" stroke="#333" stroke-width="1.3"/>
<text x="66.6" y="526.6" class="y">RUV</text>
<rect x="76.3" y="541.4" width="145.6" height="106.8" fill="#fff"/>
<line x1="82.82" x2="82.82" y1="541.4" y2="648.2" stroke="#f4f4f4" stroke-width="1"/>
<line x1="135.77" x2="135.77" y1="541.4" y2="648.2" stroke="#f4f4f4" stroke-width="1"/>
<line x1="188.72" x2="188.72" y1="541.4" y2="648.2" stroke="#f4f4f4" stroke-width="1"/>
<line x1="76.3" x2="221.9" y1="560.07" y2="560.07" stroke="#f4f4f4" stroke-width="1"/>
<line x1="76.3" x2="221.9" y1="577.39" y2="577.39" stroke="#f4f4f4" stroke-width="1"/>
<line x1="76.3" x2="221.9" y1="594.72" y2="594.72" stroke="#f4f4f4" stroke-width="1"/>
<line x1="76.3" x2="221.9" y1="612.06" y2="612.06" stroke="#f4f4f4" stroke-width="1"/>
<line x1="76.3" x2="221.9" y1="629.38" y2="629.38" stroke="#f4f4f4" stroke-width="1"/>
<line x1="109.3" x2="109.3" y1="541.4" y2="648.2" stroke="#e2e2e2" stroke-width="0.9"/>
<line x1="162.25" x2="162.25" y1="541.4" y2="648.2" stroke="#e2e2e2" stroke-width="0.9"/>
<line x1="215.2" x2="215.2" y1="541.4" y2="648.2" stroke="#e2e2e2" stroke-width="0.9"/>
<line x1="76.3" x2="221.9" y1="551.4" y2="551.4" stroke="#e2e2e2" stroke-width="0.9"/>
<line x1="76.3" x2="221.9" y1="568.73" y2="568.73" stroke="#e2e2e2" stroke-width="0.9"/>
<line x1="76.3" x2="221.9" y1="586.06" y2="586.06" stroke="#e2e2e2" stroke-width="0.9"/>
<line x1="76.3" x2="221.9" y1="603.39" y2="603.39" stroke="#e2e2e2" stroke-width="0.9"/>
<line x1="76.3" x2="221.9" y1="620.72" y2="620.72" stroke="#e2e2e2" stroke-width="0.9"/>
<line x1="76.3" x2="221.9" y1="638.05" y2="638.05" stroke="#e2e2e2" stroke-width="0.9"/>
<path d="M180.9 547.9H200.7M180.9 545.6V550.2M200.7 545.6V550.2" stroke="#F7706A" stroke-opacity="0.7" stroke-width="1.8" fill="none"/>
<rect x="188.65" y="545.65" width="4.5" height="4.5" fill="#F7706A" fill-opacity="0.82"/>
<path d="M207.1 554.9H214.8M207.1 552.6V557.2M214.8 552.6V557.2" stroke="#2CC0C4" stroke-opacity="0.7" stroke-width="1.8" fill="none"/>
<rect x="208.75" y="552.65" width="4.5" height="4.5" fill="#2CC0C4" fill-opacity="0.82"/>
<path d="M184.7 565.23H203.2M184.7 562.93V567.53M203.2 562.93V567.53" stroke="#F7706A" stroke-opacity="0.7" stroke-width="1.8" fill="none"/>
<rect x="191.45" y="562.98" width="4.5" height="4.5" fill="#F7706A" fill-opacity="0.82"/>
<path d="M208.4 572.23H215.3M208.4 569.93V574.53M215.3 569.93V574.53" stroke="#2CC0C4" stroke-opacity="0.7" stroke-width="1.8" fill="none"/>
<rect x="209.45" y="569.98" width="4.5" height="4.5" fill="#2CC0C4" fill-opacity="0.82"/>
<path d="M189.1 582.56H205.3M189.1 580.26V584.86M205.3 580.26V584.86" stroke="#F7706A" stroke-opacity="0.7" stroke-width="1.8" fill="none"/>
<rect x="194.55" y="580.31" width="4.5" height="4.5" fill="#F7706A" fill-opacity="0.82"/>
<path d="M213.5 589.56H214.5M213.5 587.26V591.86M214.5 587.26V591.86" stroke="#2CC0C4" stroke-opacity="0.7" stroke-width="1.8" fill="none"/>
<rect x="211.75" y="587.31" width="4.5" height="4.5" fill="#2CC0C4" fill-opacity="0.82"/>
<path d="M167.3 599.89H190.9M167.3 597.59V602.19M190.9 597.59V602.19" stroke="#F7706A" stroke-opacity="0.7" stroke-width="1.8" fill="none"/>
<rect x="176.55" y="597.64" width="4.5" height="4.5" fill="#F7706A" fill-opacity="0.82"/>
<path d="M174.5 606.89H196.1M174.5 604.59V609.19M196.1 604.59V609.19" stroke="#2CC0C4" stroke-opacity="0.7" stroke-width="1.8" fill="none"/>
<rect x="183.05" y="604.64" width="4.5" height="4.5" fill="#2CC0C4" fill-opacity="0.82"/>
<path d="M160.1 617.22H185.3M160.1 614.92V619.52M185.3 614.92V619.52" stroke="#F7706A" stroke-opacity="0.7" stroke-width="1.8" fill="none"/>
<rect x="170.15" y="614.97" width="4.5" height="4.5" fill="#F7706A" fill-opacity="0.82"/>
<path d="M182.2 624.22H201.4M182.2 621.92V626.52M201.4 621.92V626.52" stroke="#2CC0C4" stroke-opacity="0.7" stroke-width="1.8" fill="none"/>
<rect x="189.45" y="621.97" width="4.5" height="4.5" fill="#2CC0C4" fill-opacity="0.82"/>
<path d="M163.4 634.55H187.8M163.4 632.25V636.85M187.8 632.25V636.85" stroke="#F7706A" stroke-opacity="0.7" stroke-width="1.8" fill="none"/>
<rect x="173.45" y="632.3" width="4.5" height="4.5" fill="#F7706A" fill-opacity="0.82"/>
<path d="M182.2 641.55H201.4M182.2 639.25V643.85M201.4 639.25V643.85" stroke="#2CC0C4" stroke-opacity="0.7" stroke-width="1.8" fill="none"/>
<rect x="189.45" y="639.3" width="4.5" height="4.5" fill="#2CC0C4" fill-opacity="0.82"/>
<line x1="188.72" x2="188.72" y1="541.4" y2="648.2" stroke="#1a1a1a" stroke-width="1.6" stroke-opacity="0.95"/>
<text x="120" y="556" class="i">inflation = 3</text>
<rect x="76.3" y="541.4" width="145.6" height="106.8" fill="none" stroke="#7f7f7f" stroke-width="1.3"/>
<rect x="232.3" y="541.4" width="145.6" height="106.8" fill="#fff"/>
<line x1="238.82" x2="238.82" y1="541.4" y2="648.2" stroke="#f4f4f4" stroke-width="1"/>
<line x1="291.77" x2="291.77" y1="541.4" y2="648.2" stroke="#f4f4f4" stroke-width="1"/>
<line x1="344.72" x2="344.72" y1="541.4" y2="648.2" stroke="#f4f4f4" stroke-width="1"/>
<line x1="232.3" x2="377.9" y1="560.07" y2="560.07" stroke="#f4f4f4" stroke-width="1"/>
<line x1="232.3" x2="377.9" y1="577.39" y2="577.39" stroke="#f4f4f4" stroke-width="1"/>
<line x1="232.3" x2="377.9" y1="594.72" y2="594.72" stroke="#f4f4f4" stroke-width="1"/>
<line x1="232.3" x2="377.9" y1="612.06" y2="612.06" stroke="#f4f4f4" stroke-width="1"/>
<line x1="232.3" x2="377.9" y1="629.38" y2="629.38" stroke="#f4f4f4" stroke-width="1"/>
<line x1="265.3" x2="265.3" y1="541.4" y2="648.2" stroke="#e2e2e2" stroke-width="0.9"/>
<line x1="318.25" x2="318.25" y1="541.4" y2="648.2" stroke="#e2e2e2" stroke-width="0.9"/>
<line x1="371.2" x2="371.2" y1="541.4" y2="648.2" stroke="#e2e2e2" stroke-width="0.9"/>
<line x1="232.3" x2="377.9" y1="551.4" y2="551.4" stroke="#e2e2e2" stroke-width="0.9"/>
<line x1="232.3" x2="377.9" y1="568.73" y2="568.73" stroke="#e2e2e2" stroke-width="0.9"/>
<line x1="232.3" x2="377.9" y1="586.06" y2="586.06" stroke="#e2e2e2" stroke-width="0.9"/>
<line x1="232.3" x2="377.9" y1="603.39" y2="603.39" stroke="#e2e2e2" stroke-width="0.9"/>
<line x1="232.3" x2="377.9" y1="620.72" y2="620.72" stroke="#e2e2e2" stroke-width="0.9"/>
<line x1="232.3" x2="377.9" y1="638.05" y2="638.05" stroke="#e2e2e2" stroke-width="0.9"/>
<path d="M333 547.9H354.1M333 545.6V550.2M354.1 545.6V550.2" stroke="#F7706A" stroke-opacity="0.7" stroke-width="1.8" fill="none"/>
<rect x="340.75" y="545.65" width="4.5" height="4.5" fill="#F7706A" fill-opacity="0.82"/>
<path d="M360 554.9H370.3M360 552.6V557.2M370.3 552.6V557.2" stroke="#2CC0C4" stroke-opacity="0.7" stroke-width="1.8" fill="none"/>
<rect x="362.65" y="552.65" width="4.5" height="4.5" fill="#2CC0C4" fill-opacity="0.82"/>
<path d="M345.9 565.23H362.3M345.9 562.93V567.53M362.3 562.93V567.53" stroke="#F7706A" stroke-opacity="0.7" stroke-width="1.8" fill="none"/>
<rect x="351.85" y="562.98" width="4.5" height="4.5" fill="#F7706A" fill-opacity="0.82"/>
<path d="M366.2 572.23H372.1M366.2 569.93V574.53M372.1 569.93V574.53" stroke="#2CC0C4" stroke-opacity="0.7" stroke-width="1.8" fill="none"/>
<rect x="366.75" y="569.98" width="4.5" height="4.5" fill="#2CC0C4" fill-opacity="0.82"/>
<path d="M339.5 582.56H358.5M339.5 580.26V584.86M358.5 580.26V584.86" stroke="#F7706A" stroke-opacity="0.7" stroke-width="1.8" fill="none"/>
<rect x="346.75" y="580.31" width="4.5" height="4.5" fill="#F7706A" fill-opacity="0.82"/>
<path d="M369.5 589.56H370.5M369.5 587.26V591.86M370.5 587.26V591.86" stroke="#2CC0C4" stroke-opacity="0.7" stroke-width="1.8" fill="none"/>
<rect x="367.75" y="587.31" width="4.5" height="4.5" fill="#2CC0C4" fill-opacity="0.82"/>
<path d="M334.8 599.89H354.9M334.8 597.59V602.19M354.9 597.59V602.19" stroke="#F7706A" stroke-opacity="0.7" stroke-width="1.8" fill="none"/>
<rect x="342.35" y="597.64" width="4.5" height="4.5" fill="#F7706A" fill-opacity="0.82"/>
<path d="M351.5 606.89H365.7M351.5 604.59V609.19M365.7 604.59V609.19" stroke="#2CC0C4" stroke-opacity="0.7" stroke-width="1.8" fill="none"/>
<rect x="356.25" y="604.64" width="4.5" height="4.5" fill="#2CC0C4" fill-opacity="0.82"/>
<path d="M332.3 617.22H352.8M332.3 614.92V619.52M352.8 614.92V619.52" stroke="#F7706A" stroke-opacity="0.7" stroke-width="1.8" fill="none"/>
<rect x="340.25" y="614.97" width="4.5" height="4.5" fill="#F7706A" fill-opacity="0.82"/>
<path d="M343.8 624.22H360.5M343.8 621.92V626.52M360.5 621.92V626.52" stroke="#2CC0C4" stroke-opacity="0.7" stroke-width="1.8" fill="none"/>
<rect x="349.85" y="621.97" width="4.5" height="4.5" fill="#2CC0C4" fill-opacity="0.82"/>
<path d="M329.7 634.55H351.5M329.7 632.25V636.85M351.5 632.25V636.85" stroke="#F7706A" stroke-opacity="0.7" stroke-width="1.8" fill="none"/>
<rect x="338.25" y="632.3" width="4.5" height="4.5" fill="#F7706A" fill-opacity="0.82"/>
<path d="M347.7 641.55H363.6M347.7 639.25V643.85M363.6 639.25V643.85" stroke="#2CC0C4" stroke-opacity="0.7" stroke-width="1.8" fill="none"/>
<rect x="353.15" y="639.3" width="4.5" height="4.5" fill="#2CC0C4" fill-opacity="0.82"/>
<line x1="344.72" x2="344.72" y1="541.4" y2="648.2" stroke="#1a1a1a" stroke-width="1.6" stroke-opacity="0.95"/>
<text x="276" y="556" class="i">inflation = 2</text>
<rect x="232.3" y="541.4" width="145.6" height="106.8" fill="none" stroke="#7f7f7f" stroke-width="1.3"/>
<rect x="388.3" y="541.4" width="145.6" height="106.8" fill="#fff"/>
<line x1="394.82" x2="394.82" y1="541.4" y2="648.2" stroke="#f4f4f4" stroke-width="1"/>
<line x1="447.77" x2="447.77" y1="541.4" y2="648.2" stroke="#f4f4f4" stroke-width="1"/>
<line x1="500.72" x2="500.72" y1="541.4" y2="648.2" stroke="#f4f4f4" stroke-width="1"/>
<line x1="388.3" x2="533.9" y1="560.07" y2="560.07" stroke="#f4f4f4" stroke-width="1"/>
<line x1="388.3" x2="533.9" y1="577.39" y2="577.39" stroke="#f4f4f4" stroke-width="1"/>
<line x1="388.3" x2="533.9" y1="594.72" y2="594.72" stroke="#f4f4f4" stroke-width="1"/>
<line x1="388.3" x2="533.9" y1="612.06" y2="612.06" stroke="#f4f4f4" stroke-width="1"/>
<line x1="388.3" x2="533.9" y1="629.38" y2="629.38" stroke="#f4f4f4" stroke-width="1"/>
<line x1="421.3" x2="421.3" y1="541.4" y2="648.2" stroke="#e2e2e2" stroke-width="0.9"/>
<line x1="474.25" x2="474.25" y1="541.4" y2="648.2" stroke="#e2e2e2" stroke-width="0.9"/>
<line x1="527.2" x2="527.2" y1="541.4" y2="648.2" stroke="#e2e2e2" stroke-width="0.9"/>
<line x1="388.3" x2="533.9" y1="551.4" y2="551.4" stroke="#e2e2e2" stroke-width="0.9"/>
<line x1="388.3" x2="533.9" y1="568.73" y2="568.73" stroke="#e2e2e2" stroke-width="0.9"/>
<line x1="388.3" x2="533.9" y1="586.06" y2="586.06" stroke="#e2e2e2" stroke-width="0.9"/>
<line x1="388.3" x2="533.9" y1="603.39" y2="603.39" stroke="#e2e2e2" stroke-width="0.9"/>
<line x1="388.3" x2="533.9" y1="620.72" y2="620.72" stroke="#e2e2e2" stroke-width="0.9"/>
<line x1="388.3" x2="533.9" y1="638.05" y2="638.05" stroke="#e2e2e2" stroke-width="0.9"/>
<path d="M492.9 547.9H513.2M492.9 545.6V550.2M513.2 545.6V550.2" stroke="#F7706A" stroke-opacity="0.7" stroke-width="1.8" fill="none"/>
<rect x="500.65" y="545.65" width="4.5" height="4.5" fill="#F7706A" fill-opacity="0.82"/>
<path d="M499.3 554.9H517M499.3 552.6V557.2M517 552.6V557.2" stroke="#2CC0C4" stroke-opacity="0.7" stroke-width="1.8" fill="none"/>
<rect x="505.85" y="552.65" width="4.5" height="4.5" fill="#2CC0C4" fill-opacity="0.82"/>
<path d="M488.3 565.23H509.3M488.3 562.93V567.53M509.3 562.93V567.53" stroke="#F7706A" stroke-opacity="0.7" stroke-width="1.8" fill="none"/>
<rect x="495.75" y="562.98" width="4.5" height="4.5" fill="#F7706A" fill-opacity="0.82"/>
<path d="M510.1 572.23H523.5M510.1 569.93V574.53M523.5 569.93V574.53" stroke="#2CC0C4" stroke-opacity="0.7" stroke-width="1.8" fill="none"/>
<rect x="514.25" y="569.98" width="4.5" height="4.5" fill="#2CC0C4" fill-opacity="0.82"/>
<path d="M501.1 582.56H517.8M501.1 580.26V584.86M517.8 580.26V584.86" stroke="#F7706A" stroke-opacity="0.7" stroke-width="1.8" fill="none"/>
<rect x="507.05" y="580.31" width="4.5" height="4.5" fill="#F7706A" fill-opacity="0.82"/>
<path d="M515.8 589.56H526.3M515.8 587.26V591.86M526.3 587.26V591.86" stroke="#2CC0C4" stroke-opacity="0.7" stroke-width="1.8" fill="none"/>
<rect x="518.65" y="587.31" width="4.5" height="4.5" fill="#2CC0C4" fill-opacity="0.82"/>
<path d="M475.9 599.89H500.3M475.9 597.59V602.19M500.3 597.59V602.19" stroke="#F7706A" stroke-opacity="0.7" stroke-width="1.8" fill="none"/>
<rect x="486.05" y="597.64" width="4.5" height="4.5" fill="#F7706A" fill-opacity="0.82"/>
<path d="M478.5 606.89H501.9M478.5 604.59V609.19M501.9 604.59V609.19" stroke="#2CC0C4" stroke-opacity="0.7" stroke-width="1.8" fill="none"/>
<rect x="488.05" y="604.64" width="4.5" height="4.5" fill="#2CC0C4" fill-opacity="0.82"/>
<path d="M484.4 617.22H506.8M484.4 614.92V619.52M506.8 614.92V619.52" stroke="#F7706A" stroke-opacity="0.7" stroke-width="1.8" fill="none"/>
<rect x="493.25" y="614.97" width="4.5" height="4.5" fill="#F7706A" fill-opacity="0.82"/>
<path d="M490.3 624.22H510.9M490.3 621.92V626.52M510.9 621.92V626.52" stroke="#2CC0C4" stroke-opacity="0.7" stroke-width="1.8" fill="none"/>
<rect x="498.35" y="621.97" width="4.5" height="4.5" fill="#2CC0C4" fill-opacity="0.82"/>
<path d="M484.4 634.55H506.8M484.4 632.25V636.85M506.8 632.25V636.85" stroke="#F7706A" stroke-opacity="0.7" stroke-width="1.8" fill="none"/>
<rect x="493.25" y="632.3" width="4.5" height="4.5" fill="#F7706A" fill-opacity="0.82"/>
<path d="M496.7 641.55H514.7M496.7 639.25V643.85M514.7 639.25V643.85" stroke="#2CC0C4" stroke-opacity="0.7" stroke-width="1.8" fill="none"/>
<rect x="503.45" y="639.3" width="4.5" height="4.5" fill="#2CC0C4" fill-opacity="0.82"/>
<line x1="500.72" x2="500.72" y1="541.4" y2="648.2" stroke="#1a1a1a" stroke-width="1.6" stroke-opacity="0.95"/>
<text x="432" y="556" class="i">inflation = 1.5</text>
<rect x="388.3" y="541.4" width="145.6" height="106.8" fill="none" stroke="#7f7f7f" stroke-width="1.3"/>
<rect x="533.8" y="541.4" width="33" height="106.8" fill="#d3d3d3" stroke="#7f7f7f" stroke-width="1.3"/>
<text transform="translate(544.6 594.8) rotate(90)" class="r">inflation</text>
<line x1="71.3" x2="76" y1="551.4" y2="551.4" stroke="#333" stroke-width="1.3"/>
<text x="66.6" y="557.15" class="y">E0</text>
<line x1="71.3" x2="76" y1="568.73" y2="568.73" stroke="#333" stroke-width="1.3"/>
<text x="66.6" y="574.48" class="y">EMAX</text>
<line x1="71.3" x2="76" y1="586.06" y2="586.06" stroke="#333" stroke-width="1.3"/>
<text x="66.6" y="591.81" class="y">ED50</text>
<line x1="71.3" x2="76" y1="603.39" y2="603.39" stroke="#333" stroke-width="1.3"/>
<text x="66.6" y="609.14" class="y">IIV E0</text>
<line x1="71.3" x2="76" y1="620.72" y2="620.72" stroke="#333" stroke-width="1.3"/>
<text x="66.6" y="626.47" class="y">IIV ED50</text>
<line x1="71.3" x2="76" y1="638.05" y2="638.05" stroke="#333" stroke-width="1.3"/>
<text x="66.6" y="643.8" class="y">RUV</text>
<line x1="109.3" x2="109.3" y1="648.2" y2="653.4" stroke="#333" stroke-width="1.3"/>
<text x="109.3" y="670" class="s">0.8</text>
<line x1="162.25" x2="162.25" y1="648.2" y2="653.4" stroke="#333" stroke-width="1.3"/>
<text x="162.25" y="670" class="s">0.9</text>
<line x1="215.2" x2="215.2" y1="648.2" y2="653.4" stroke="#333" stroke-width="1.3"/>
<text x="215.2" y="670" class="s">1.0</text>
<line x1="265.3" x2="265.3" y1="648.2" y2="653.4" stroke="#333" stroke-width="1.3"/>
<text x="265.3" y="670" class="s">0.8</text>
<line x1="318.25" x2="318.25" y1="648.2" y2="653.4" stroke="#333" stroke-width="1.3"/>
<text x="318.25" y="670" class="s">0.9</text>
<line x1="371.2" x2="371.2" y1="648.2" y2="653.4" stroke="#333" stroke-width="1.3"/>
<text x="371.2" y="670" class="s">1.0</text>
<line x1="421.3" x2="421.3" y1="648.2" y2="653.4" stroke="#333" stroke-width="1.3"/>
<text x="421.3" y="670" class="s">0.8</text>
<line x1="474.25" x2="474.25" y1="648.2" y2="653.4" stroke="#333" stroke-width="1.3"/>
<text x="474.25" y="670" class="s">0.9</text>
<line x1="527.2" x2="527.2" y1="648.2" y2="653.4" stroke="#333" stroke-width="1.3"/>
<text x="527.2" y="670" class="s">1.0</text>
<text x="305.2" y="692.7" class="xt">Coverage</text>
<rect x="226.6" y="710.5" width="17.6" height="17.6" fill="#fff" stroke="#cccccc" stroke-width="1"/><path d="M228.2 719.4H242.79999999999998" stroke="#F7706A" stroke-opacity="0.8" stroke-width="1.4" fill="none"/><rect x="233.29999999999998" y="717.3" width="4.2" height="4.2" fill="#F7706A"/>
<text x="247.2" y="725.5" class="l">SIR</text>
<rect x="276.6" y="710.5" width="17.6" height="17.6" fill="#fff" stroke="#cccccc" stroke-width="1"/><path d="M278.20000000000005 719.4H292.8" stroke="#2CC0C4" stroke-opacity="0.8" stroke-width="1.4" fill="none"/><rect x="283.3" y="717.3" width="4.2" height="4.2" fill="#2CC0C4"/>
<text x="297.2" y="725.5" class="l">PROPOSAL</text>
</svg>
</body></html>
